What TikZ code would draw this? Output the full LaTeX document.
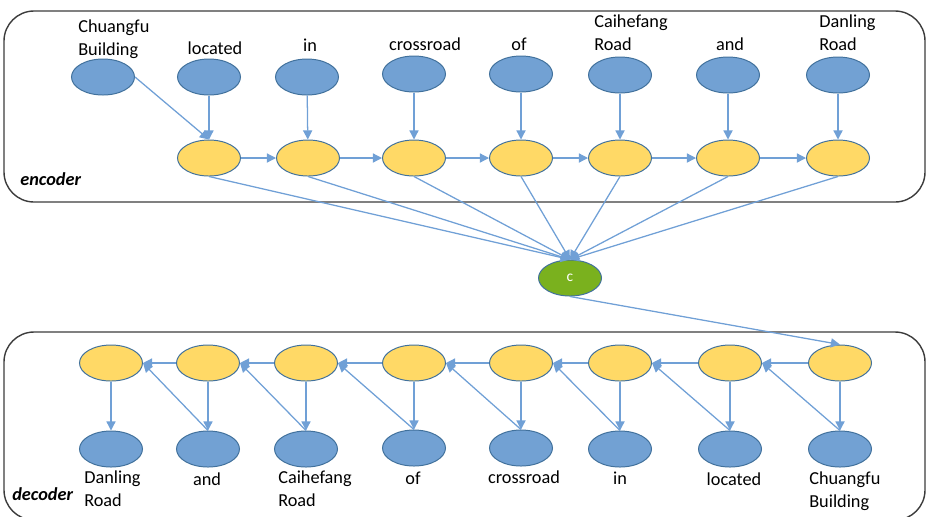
\documentclass[tikz,border=0pt]{standalone}
\usepackage{fontspec}
\setmainfont{Carlito}
\usepackage{tikz}
\usetikzlibrary{shapes.geometric, arrows.meta}

\definecolor{wordblue}{RGB}{114,161,211}
\definecolor{wordline}{RGB}{65,113,156}
\definecolor{stateyellow}{RGB}{255,217,102}
\definecolor{ctxgreen}{RGB}{122,177,30}
\definecolor{edgeblue}{RGB}{112,160,214}
\definecolor{boxgray}{RGB}{60,60,60}

\tikzset{
  word/.style={ellipse, draw=wordline, line width=0.7pt, fill=wordblue,
    minimum width=1.575cm, minimum height=0.9cm, inner sep=0pt},
  state/.style={word, fill=stateyellow},
  ctx/.style={word, fill=ctxgreen, text=white, font=\fontsize{11}{13}\selectfont},
  edge/.style={draw=edgeblue, line width=0.9pt, -{Triangle[length=6.5pt,width=6.5pt]}},
  lbl/.style={inner sep=0pt, font=\fontsize{13}{16}\selectfont},
  tag/.style={inner sep=0pt, font=\fontsize{13}{16}\selectfont\bfseries\itshape},
  frame/.style={draw=boxgray, line width=1pt, rounded corners=0.75cm}
}

\begin{document}
\begin{tikzpicture}[x=0.025cm, y=-0.025cm]
  \useasboundingbox (0,0) rectangle (926,516);

  % frames
  \draw[frame] (4,11) rectangle (925,202);
  \draw[frame] (4,332) rectangle (925,520);
  \node[tag, anchor=base west] (enc) at (20,185) {encoder};
  \node[tag, anchor=base west] (dec) at (12,500) {decoder};

  % encoder input words
  \node[word] (w1) at (103,77) {};
  \node[word] (w2) at (209,77) {};
  \node[word] (w3) at (307,77) {};
  \node[word] (w4) at (414,74) {};
  \node[word] (w5) at (521,74) {};
  \node[word] (w6) at (620,75) {};
  \node[word] (w7) at (728,75) {};
  \node[word] (w8) at (838,75) {};

  \node[lbl, anchor=north west, align=left] (l1) at (78,20) {Chuangfu\\Building};
  \node[lbl, anchor=base] (l2) at (215,54) {located};
  \node[lbl, anchor=base] (l3) at (310,51) {in};
  \node[lbl, anchor=base] (l4) at (425,50) {crossroad};
  \node[lbl, anchor=base] (l5) at (519,50) {of};
  \node[lbl, anchor=north west, align=left] (l6) at (594,15) {Caihefang\\Road};
  \node[lbl, anchor=base] (l7) at (730,50) {and};
  \node[lbl, anchor=north west, align=left] (l8) at (819,15) {Danling\\Road};

  % encoder states
  \node[state] (h1) at (209,158) {};
  \node[state] (h2) at (308,158) {};
  \node[state] (h3) at (414,158) {};
  \node[state] (h4) at (521,158) {};
  \node[state] (h5) at (620,158) {};
  \node[state] (h6) at (728,158) {};
  \node[state] (h7) at (838,158) {};

  % context vector
  \node[ctx] (c) at (570,278) {c};

  % decoder states
  \node[state] (s1) at (111,363) {};
  \node[state] (s2) at (208,363) {};
  \node[state] (s3) at (306,363) {};
  \node[state] (s4) at (414,363) {};
  \node[state] (s5) at (521,363) {};
  \node[state] (s6) at (620,363) {};
  \node[state] (s7) at (730,363) {};
  \node[state] (s8) at (840,363) {};

  % decoder output words
  \node[word] (o1) at (111,449) {};
  \node[word] (o2) at (208,449) {};
  \node[word] (o3) at (306,449) {};
  \node[word] (o4) at (414,448) {};
  \node[word] (o5) at (521,448) {};
  \node[word] (o6) at (620,449) {};
  \node[word] (o7) at (730,449) {};
  \node[word] (o8) at (840,449) {};

  \node[lbl, anchor=north west, align=left] (m1) at (84,471) {Danling\\Road};
  \node[lbl, anchor=base] (m2) at (207,485) {and};
  \node[lbl, anchor=north west, align=left] (m3) at (278,471) {Caihefang\\Road};
  \node[lbl, anchor=base] (m4) at (413,484) {of};
  \node[lbl, anchor=base] (m5) at (524,483) {crossroad};
  \node[lbl, anchor=base] (m6) at (620,484) {in};
  \node[lbl, anchor=base] (m7) at (734,485) {located};
  \node[lbl, anchor=north west, align=left] (m8) at (809,472) {Chuangfu\\Building};

  % encoder edges
  \draw[edge] (w1.east) -- (h1.north);
  \draw[edge] (w2) -- (h1);
  \draw[edge] (w3) -- (h2);
  \draw[edge] (w4) -- (h3);
  \draw[edge] (w5) -- (h4);
  \draw[edge] (w6) -- (h5);
  \draw[edge] (w7) -- (h6);
  \draw[edge] (w8) -- (h7);
  \draw[edge] (h1) -- (h2);
  \draw[edge] (h2) -- (h3);
  \draw[edge] (h3) -- (h4);
  \draw[edge] (h4) -- (h5);
  \draw[edge] (h5) -- (h6);
  \draw[edge] (h6) -- (h7);
  \draw[edge] (h1.south) -- (c.north);
  \draw[edge] (h2.south) -- (c.north);
  \draw[edge] (h3.south) -- (c.north);
  \draw[edge] (h4.south) -- (c.north);
  \draw[edge] (h5.south) -- (c.north);
  \draw[edge] (h6.south) -- (c.north);
  \draw[edge] (h7.south) -- (c.north);

  % decoder edges
  \draw[edge] (c.south) -- (s8.north);
  \draw[edge] (s8) -- (s7);
  \draw[edge] (s7) -- (s6);
  \draw[edge] (s6) -- (s5);
  \draw[edge] (s5) -- (s4);
  \draw[edge] (s4) -- (s3);
  \draw[edge] (s3) -- (s2);
  \draw[edge] (s2) -- (s1);
  \draw[edge] (s1) -- (o1);
  \draw[edge] (s2) -- (o2);
  \draw[edge] (s3) -- (o3);
  \draw[edge] (s4) -- (o4);
  \draw[edge] (s5) -- (o5);
  \draw[edge] (s6) -- (o6);
  \draw[edge] (s7) -- (o7);
  \draw[edge] (s8) -- (o8);
  \draw[edge] (o2.north) -- (s1.east);
  \draw[edge] (o3.north) -- (s2.east);
  \draw[edge] (o4.north) -- (s3.east);
  \draw[edge] (o5.north) -- (s4.east);
  \draw[edge] (o6.north) -- (s5.east);
  \draw[edge] (o7.north) -- (s6.east);
  \draw[edge] (o8.north) -- (s7.east);
\end{tikzpicture}
\end{document}
